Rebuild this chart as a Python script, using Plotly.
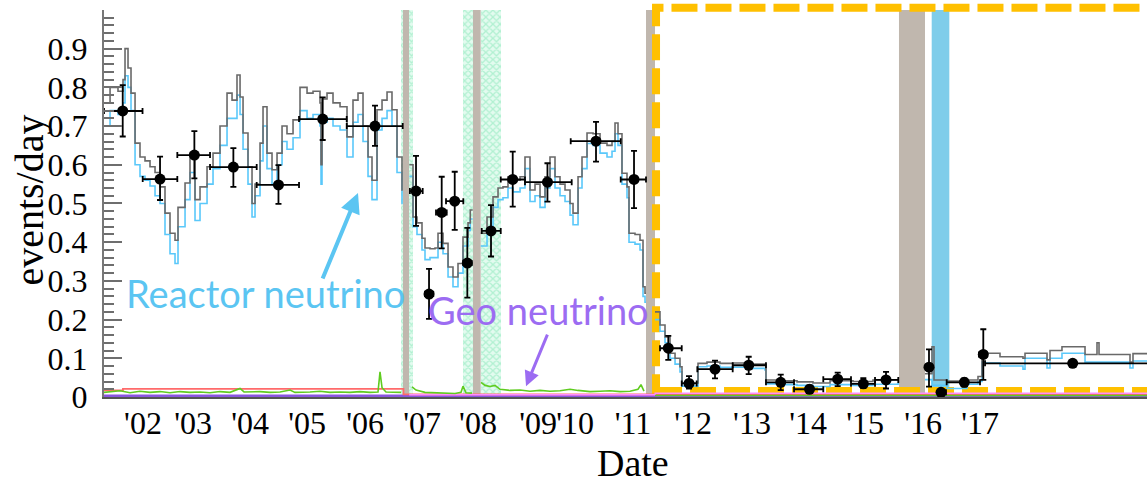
import plotly.graph_objects as go

# ---------------- data ----------------
X_MIN, X_MAX = 2002.201, 2020.309

# expected rate curves (decimal year; None = hidden behind a calibration band)
line_year = [
    2002.201, 2002.306, 2002.444, 2002.531, 2002.566, 2002.618, 2002.670, 2002.740, 2002.826, 2002.913,
    2003.000, 2003.087, 2003.174, 2003.260, 2003.347, 2003.434, 2003.486, 2003.608, 2003.694, 2003.781,
    2003.868, 2003.990, 2004.094, 2004.215, 2004.337, 2004.424, 2004.510, 2004.563, 2004.615, 2004.701,
    2004.771, 2004.823, 2004.910, 2004.962, 2005.031, 2005.118, 2005.205, 2005.292, 2005.378, 2005.483,
    2005.604, 2005.726, 2005.830, 2005.951, 2005.969, 2005.986, 2006.073, 2006.177, 2006.299, 2006.420,
    2006.524, 2006.611, 2006.698, 2006.785, 2006.854, 2006.941, 2007.028, 2007.115, 2007.201, 2007.288,
    2007.375, 2007.387, None,
    2007.502, 2007.566, 2007.635, 2007.722, 2007.774, 2007.861, 2007.948, 2008.000, 2008.087, 2008.174,
    2008.260, 2008.347, 2008.434, 2008.521, 2008.560, 2008.602, None,
    2008.741, 2008.851, 2008.955, 2009.042, 2009.128, 2009.215, 2009.302, 2009.424, 2009.510, 2009.597,
    2009.684, 2009.771, 2009.858, 2009.944, 2010.031, 2010.118, 2010.205, 2010.292, 2010.344, 2010.431,
    2010.500, 2010.587, 2010.691, 2010.813, 2010.934, 2011.021, 2011.073, 2011.125, 2011.194, 2011.281,
    2011.316, 2011.420, 2011.507, 2011.559, 2011.594, 2011.611, None,
    2011.767, 2011.854, 2011.941, 2012.028, 2012.115, 2012.201, 2012.236, 2012.497, 2012.514, 2012.670,
    2012.896, 2013.122, 2013.417, 2013.677, 2013.694, 2013.990, 2014.233, 2014.510, 2014.806, 2015.205,
    2015.552, 2015.986, 2016.003, None,
    2016.455, 2016.576, 2016.611, 2016.837, 2017.184, 2017.375, 2017.444, 2017.497, 2017.757, 2018.156,
    2018.191, 2018.573, 2018.625, 2018.833, 2019.233, 2019.441, 2019.476, 2020.014, 2020.066, 2020.309,
]
expected_total = [
    0.76, 0.80, 0.79, 0.82, 0.90, 0.85, 0.785, 0.656, 0.62, 0.61,
    0.595, 0.58, 0.543, 0.475, 0.423, 0.405, 0.49, 0.553, 0.63, 0.51,
    0.543, 0.595, 0.63, 0.70, 0.785, 0.767, 0.832, 0.775, 0.682, 0.595,
    0.50, 0.55, 0.656, 0.75, 0.63, 0.587, 0.63, 0.70, 0.68, 0.716,
    0.80, 0.785, 0.79, 0.76, 0.60, 0.77, 0.785, 0.76, 0.75, 0.672,
    0.767, 0.785, 0.70, 0.62, 0.56, 0.742, 0.767, 0.788, 0.742, 0.62,
    0.535, 0.535, None,
    0.60, 0.465, 0.45, 0.41, 0.385, 0.383, 0.385, 0.423, 0.397, 0.336,
    0.31, 0.345, 0.413, 0.45, 0.483, 0.483, None,
    0.423, 0.465, 0.517, 0.54, 0.543, 0.569, 0.56, 0.569, 0.62, 0.535,
    0.55, 0.517, 0.569, 0.62, 0.569, 0.55, 0.535, 0.50, 0.475, 0.569,
    0.62, 0.682, 0.68, 0.656, 0.65, 0.66, 0.708, 0.68, 0.578, 0.543,
    0.423, 0.42, 0.405, 0.285, 0.268, 0.268, None,
    0.22, 0.186, 0.155, 0.113, 0.10, 0.078, 0.036, 0.036, 0.087, 0.09,
    0.087, 0.088, 0.085, 0.083, 0.044, 0.042, 0.039, 0.036, 0.042, 0.04,
    0.044, 0.045, 0.045, None,
    0.06, 0.13, 0.044, 0.041, 0.044, 0.053, 0.104, 0.113, 0.104, 0.10,
    0.113, 0.096, 0.12, 0.13, 0.11, 0.14, 0.11, 0.09, 0.112, 0.112,
]
reactor_expected = [
    0.70, 0.74, 0.73, 0.76, 0.83, 0.80, 0.74, 0.60, 0.57, 0.56,
    0.545, 0.52, 0.50, 0.42, 0.37, 0.345, 0.44, 0.51, 0.58, 0.456,
    0.50, 0.55, 0.59, 0.65, 0.72, 0.72, 0.78, 0.73, 0.64, 0.55,
    0.465, 0.52, 0.61, 0.70, 0.59, 0.55, 0.60, 0.66, 0.64, 0.67,
    0.74, 0.72, 0.73, 0.70, 0.55, 0.71, 0.72, 0.70, 0.69, 0.62,
    0.71, 0.73, 0.66, 0.57, 0.51, 0.69, 0.72, 0.74, 0.70, 0.58,
    0.50, 0.50, None,
    0.57, 0.44, 0.42, 0.38, 0.355, 0.36, 0.36, 0.40, 0.37, 0.31,
    0.285, 0.32, 0.39, 0.43, 0.46, 0.46, None,
    0.39, 0.435, 0.49, 0.51, 0.515, 0.54, 0.53, 0.54, 0.59, 0.505,
    0.52, 0.49, 0.54, 0.59, 0.54, 0.52, 0.505, 0.47, 0.445, 0.54,
    0.59, 0.655, 0.65, 0.63, 0.62, 0.635, 0.68, 0.65, 0.55, 0.515,
    0.40, 0.395, 0.38, 0.26, 0.245, 0.245, None,
    0.20, 0.17, 0.14, 0.10, 0.085, 0.065, 0.028, 0.028, 0.078, 0.08,
    0.077, 0.077, 0.074, 0.07, 0.034, 0.032, 0.03, 0.027, 0.032, 0.03,
    0.033, 0.035, 0.035, None,
    0.045, 0.03, 0.03, 0.022, 0.033, 0.04, 0.09, 0.088, 0.08, 0.072,
    0.10, 0.075, 0.10, 0.113, 0.09, 0.09, 0.09, 0.075, 0.093, 0.093,
]

# small background components near zero
green_year = [
    2002.201, 2002.479, 2002.653, 2002.826, 2003.000, 2003.174, 2003.347, 2003.521, 2003.694, 2003.868,
    2004.042, 2004.215, 2004.389, 2004.563, 2004.632, 2004.910, 2005.083, 2005.257, 2005.431, 2005.517,
    2005.778, 2005.951, 2006.125, 2006.299, 2006.472, 2006.646, 2006.819, 2006.958, 2006.993, 2007.028,
    2007.097, 2007.253, 2007.358, None,
    2007.549, 2007.618, 2007.774, 2008.035, 2008.295, 2008.399, 2008.434, 2008.486, 2008.590, None,
    2008.747, 2008.816, 2008.903, 2008.990, 2009.076, 2009.250, 2009.424, 2009.597, 2009.771, 2009.944,
    2010.118, 2010.292, 2010.431, 2010.639, 2010.813, 2010.986, 2011.160, 2011.333, 2011.472, 2011.524,
    2011.576, None,
    2011.767, 2020.309,
]
green_val = [
    0.012, 0.016, 0.011, 0.015, 0.012, 0.014, 0.011, 0.014, 0.012, 0.013,
    0.011, 0.014, 0.012, 0.022, 0.013, 0.014, 0.012, 0.013, 0.018, 0.012,
    0.013, 0.015, 0.012, 0.013, 0.012, 0.014, 0.012, 0.013, 0.065, 0.024,
    0.013, 0.012, 0.012, None,
    0.026, 0.018, 0.012, 0.010, 0.009, 0.012, 0.028, 0.011, 0.010, None,
    0.038, 0.030, 0.027, 0.030, 0.020, 0.017, 0.018, 0.015, 0.017, 0.015,
    0.016, 0.020, 0.017, 0.014, 0.015, 0.016, 0.014, 0.015, 0.020, 0.032,
    0.015, None,
    0.004, 0.004,
]
red_year = [2002.201, 2002.530, 2007.400, 2020.309]
red_val = [0.017, 0.021, 0.007, 0.007]
pink_year = [2007.500, 2011.770, 2020.309]
pink_val = [0.006, 0.010, 0.010]
purple_year = [2002.201, 2020.309]
purple_val = [0.003, 0.003]

# observed rates with errors
obs_year = [2002.526, 2003.174, 2003.770, 2004.447, 2005.230, 2005.998, 2006.906, 2007.618, 2007.844, 2008.064,
            2008.290, 2008.509, 2008.920, 2009.297, 2009.900, 2010.743, 2011.403, 2011.998, 2012.358, 2012.809,
            2013.394, 2013.950, 2014.450, 2014.939, 2015.384, 2015.778, 2016.524, 2016.733, 2017.137, 2017.467,
            2019.019]
obs_rate = [0.739, 0.563, 0.625, 0.594, 0.548, 0.718, 0.700, 0.532, 0.266, 0.477,
            0.506, 0.346, 0.429, 0.562, 0.555, 0.661, 0.562, 0.126, 0.035, 0.072,
            0.082, 0.038, 0.020, 0.046, 0.034, 0.044, 0.077, 0.012, 0.038, 0.110,
            0.087]
obs_hi = [0.806, 0.621, 0.687, 0.643, 0.599, 0.774, 0.753, 0.623, 0.331, 0.569,
          0.582, 0.437, 0.496, 0.634, 0.604, 0.711, 0.636, 0.158, 0.054, 0.094,
          0.104, 0.058, 0.030, 0.063, 0.049, 0.065, 0.123, 0.020, 0.048, 0.175,
          0.092]
obs_lo = [0.673, 0.509, 0.565, 0.543, 0.499, 0.664, 0.649, 0.442, 0.202, 0.384,
          0.432, 0.257, 0.363, 0.492, 0.505, 0.608, 0.488, 0.096, 0.022, 0.048,
          0.059, 0.018, 0.010, 0.028, 0.023, 0.022, 0.027, 0.004, 0.027, 0.044,
          0.082]
bin_start = [2002.201, 2002.873, 2003.474, 2004.042, 2004.852, 2005.587, 2006.415, 2007.512, 2007.774, 2007.965,
             2008.139, 2008.439, 2008.759, 2009.089, 2009.510, 2010.304, 2011.172, 2011.854, 2012.231, 2012.502,
             2013.116, 2013.694, 2014.181, 2014.689, 2015.170, 2015.587, 2016.472, 2016.681, 2016.831, 2017.392,
             2017.497]
bin_end = [2002.870, 2003.474, 2004.042, 2004.852, 2005.587, 2006.415, 2007.387, 2007.734, 2007.918, 2008.151,
           2008.439, 2008.585, 2009.089, 2009.510, 2010.321, 2011.172, 2011.611, 2012.231, 2012.491, 2013.116,
           2013.694, 2014.181, 2014.689, 2015.170, 2015.587, 2015.991, 2016.576, 2016.819, 2017.410, 2017.531,
           2020.400]

# shaded periods
gray_bands = [(2007.387, 2007.502), (2008.602, 2008.741), (2011.611, 2011.767), (2016.003, 2016.455)]
mint_bands = [(2007.352, 2007.387), (2007.502, 2007.571), (2008.429, 2008.602), (2008.741, 2009.089)]
blue_band = (2016.571, 2016.877)
box_start = 2011.785

label_pos = [2002.878, 2003.747, 2004.736, 2005.726, 2006.733, 2007.722, 2008.694, 2009.736, 2010.380,
             2011.385, 2012.427, 2013.451, 2014.424, 2015.413, 2016.420, 2017.410]
label_text = ["'02", "'03", "'04", "'05", "'06", "'07", "'08", "'09", "'10", "'11", "'12", "'13", "'14",
              "'15", "'16", "'17"]
year_ticks = list(range(2003, 2021))

# ---------------- figure ----------------
SERIF = "Liberation Serif"
SANS = "Lato"
REACTOR_C = "#5bc5f2"
GEO_C = "#9c6cf2"

fig = go.Figure()

fig.add_trace(go.Bar(
    x=[(s + e) / 2 for s, e in mint_bands], y=[1] * len(mint_bands),
    width=[e - s for s, e in mint_bands], base=0,
    marker=dict(color="#e3fbef", line_width=0,
                pattern=dict(shape="x", fgcolor="#7fe6b4", size=5, solidity=0.45)),
    hoverinfo="skip", showlegend=False))

def line(x, y, color, width, shape="linear"):
    fig.add_trace(go.Scatter(x=x, y=y, mode="lines", line=dict(color=color, width=width, shape=shape),
                             connectgaps=False, hoverinfo="skip", showlegend=False))

line(purple_year, purple_val, "#8a55e0", 2.5)
line(red_year, red_val, "#ff6a6a", 1.8, "hv")
line(pink_year, pink_val, "#ff8cff", 1.5, "hv")
line(green_year, green_val, "#5fcc1f", 1.6)
line(line_year, reactor_expected, "#5ac8fa", 1.6, "hv")
line(line_year, expected_total, "#696969", 1.6, "hv")

fig.add_trace(go.Scatter(
    x=obs_year, y=obs_rate, mode="markers",
    marker=dict(color="black", size=11),
    error_y=dict(type="data", symmetric=False,
                 array=[h - v for h, v in zip(obs_hi, obs_rate)],
                 arrayminus=[v - l for v, l in zip(obs_rate, obs_lo)],
                 color="black", thickness=1.8, width=3),
    error_x=dict(type="data", symmetric=False,
                 array=[e - v for e, v in zip(bin_end, obs_year)],
                 arrayminus=[v - s for v, s in zip(obs_year, bin_start)],
                 color="black", thickness=1.8, width=3),
    cliponaxis=False, hoverinfo="skip", showlegend=False))

shapes = []
for s, e in gray_bands:
    shapes.append(dict(type="rect", xref="x", yref="paper", x0=s, x1=e, y0=0, y1=1,
                       fillcolor="#c0b7ae", line_width=0, layer="below"))
shapes.append(dict(type="rect", xref="x", yref="paper", x0=blue_band[0], x1=blue_band[1], y0=0, y1=1,
                   fillcolor="#7fcdea", line_width=0, layer="below"))
shapes.append(dict(type="rect", xref="paper", yref="paper",
                   x0=(box_start - X_MIN) / (X_MAX - X_MIN), x1=1.05, y0=0.0155, y1=1.0057,
                   line=dict(color="#ffc000", width=8, dash="26px,8px"), fillcolor="rgba(0,0,0,0)",
                   layer="below"))

annotations = [
    dict(text="Reactor neutrino", x=2004.997, y=0.269, xref="x", yref="y", showarrow=False,
         font=dict(family=SANS, size=38, color=REACTOR_C)),
    dict(text="Geo neutrino", x=2009.736, y=0.225, xref="x", yref="y", showarrow=False,
         font=dict(family=SANS, size=38, color=GEO_C)),
    dict(text="", x=2006.611, y=0.527, xref="x", yref="y", ax=-36, ay=87, showarrow=True,
         arrowhead=2, arrowsize=1, arrowwidth=4, arrowcolor=REACTOR_C),
    dict(text="", x=2009.528, y=0.028, xref="x", yref="y", ax=22, ay=-53, showarrow=True,
         arrowhead=2, arrowsize=1, arrowwidth=3, arrowcolor=GEO_C),
    dict(text="events/day", x=-0.071, y=0.51, xref="paper", yref="paper", showarrow=False,
         textangle=-90, xanchor="center", yanchor="middle",
         font=dict(family=SERIF, size=40, color="black")),
    dict(text="Date", x=0.507, y=-0.17, xref="paper", yref="paper", showarrow=False,
         xanchor="center", yanchor="middle", font=dict(family=SERIF, size=38, color="black")),
]

fig.update_layout(
    width=1147, height=486, margin=dict(l=104, r=0, t=10, b=89, autoexpand=False),
    paper_bgcolor="white", plot_bgcolor="white", showlegend=False,
    barmode="overlay", bargap=0,
    shapes=shapes, annotations=annotations,
    xaxis=dict(range=[X_MIN, X_MAX], tickmode="array", tickvals=label_pos, ticktext=label_text,
               tickangle=0, automargin=False, ticklabelstandoff=-3,
               ticks="", showline=True, linecolor="#555555", linewidth=2, showgrid=False, zeroline=False,
               tickfont=dict(family=SERIF, size=32, color="black")),
    xaxis3=dict(range=[X_MIN, X_MAX], overlaying="x", side="bottom", anchor="y", automargin=False,
                tickmode="array", tickvals=year_ticks, ticks="inside", ticklen=8, tickwidth=2.5,
                tickcolor="black", showticklabels=False, showline=False, showgrid=False, zeroline=False),
    xaxis2=dict(range=[X_MIN, X_MAX], overlaying="x", side="top", anchor="y", tick0=2003, dtick=0.5,
                automargin=False,
                ticks="inside", ticklen=5, tickcolor="#888888", tickwidth=1.2, showticklabels=False,
                showline=True, linecolor="#888888", linewidth=1.5, showgrid=False, zeroline=False),
    yaxis=dict(range=[0, 0.9999], tick0=0, dtick=0.1, ticks="inside", ticklen=18, tickwidth=1.5,
               tickcolor="#6e6e6e", showline=True, linecolor="#777777", linewidth=2, automargin=False,
               showgrid=False, zeroline=False, ticklabelstandoff=8,
               tickfont=dict(family=SERIF, size=32, color="black"),
               minor=dict(ticks="inside", tick0=0, dtick=0.02, ticklen=10, tickwidth=1.5,
                          tickcolor="#6e6e6e", showgrid=False)),
)

fig.write_html("out.html", config={"displayModeBar": False},
               post_script="document.body.style.margin='0';document.body.style.overflow='hidden';")
